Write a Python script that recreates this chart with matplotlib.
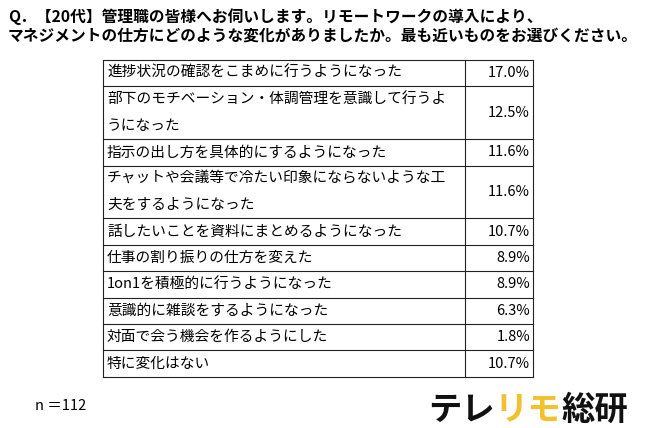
import matplotlib
matplotlib.use('Agg')
import matplotlib.pyplot as plt

plt.rcParams['font.family'] = ['Noto Sans CJK JP', 'DejaVu Sans']

title_lines = ["Q．【20代】管理職の皆様へお伺いします。リモートワークの導入により、",
               "マネジメントの仕方にどのような変化がありましたか。最も近いものをお選びください。"]
labels = [
    ["進捗状況の確認をこまめに行うようになった"],
    ["部下のモチベーション・体調管理を意識して行うよ", "うになった"],
    ["指示の出し方を具体的にするようになった"],
    ["チャットや会議等で冷たい印象にならないような工", "夫をするようになった"],
    ["話したいことを資料にまとめるようになった"],
    ["仕事の割り振りの仕方を変えた"],
    ["1on1を積極的に行うようになった"],
    ["意識的に雑談をするようになった"],
    ["対面で会う機会を作るようにした"],
    ["特に変化はない"],
]
values = [17.0, 12.5, 11.6, 11.6, 10.7, 8.9, 8.9, 6.3, 1.8, 10.7]
n_text = "n ＝112"

fig = plt.figure(figsize=(6.5, 4.28), dpi=100)
ax = fig.add_axes([0, 0, 1, 1])
ax.set_xlim(0, 650)
ax.set_ylim(428, 0)
ax.axis('off')

ax.text(8, 17, title_lines[0], fontsize=11.3, fontweight='bold', va='center')
ax.text(8, 36, title_lines[1], fontsize=11.3, fontweight='bold', va='center')

left, mid, right = 103, 465, 533
top = 60
line_h = 26.4
y = top
edges = [y]
for lab, val in zip(labels, values):
    h = line_h * len(lab)
    for i, t in enumerate(lab):
        ax.text(left + 4, y + line_h * (i + 0.5), t, fontsize=10.6, va='center')
    ax.text(right - 3, y + h / 2, f"{val:.1f}%", fontsize=10.5, va='center', ha='right')
    y += h
    edges.append(y)
for e in edges:
    ax.plot([left, right], [e, e], color='#222222', lw=0.8)
for xv in (left, mid, right):
    ax.plot([xv, xv], [top, y], color='#222222', lw=0.8)

ax.text(35, 406, n_text, fontsize=10.5, va='center')

lx = 428
for part, col in [("テレ", '#111111'), ("リモ", '#f2c12e'), ("総研", '#111111')]:
    t = ax.text(lx, 410, part, fontsize=24, fontweight='bold', color=col, va='center')
    fig.canvas.draw()
    bb = t.get_window_extent()
    lx += bb.width

fig.savefig("out.png", dpi=100)
